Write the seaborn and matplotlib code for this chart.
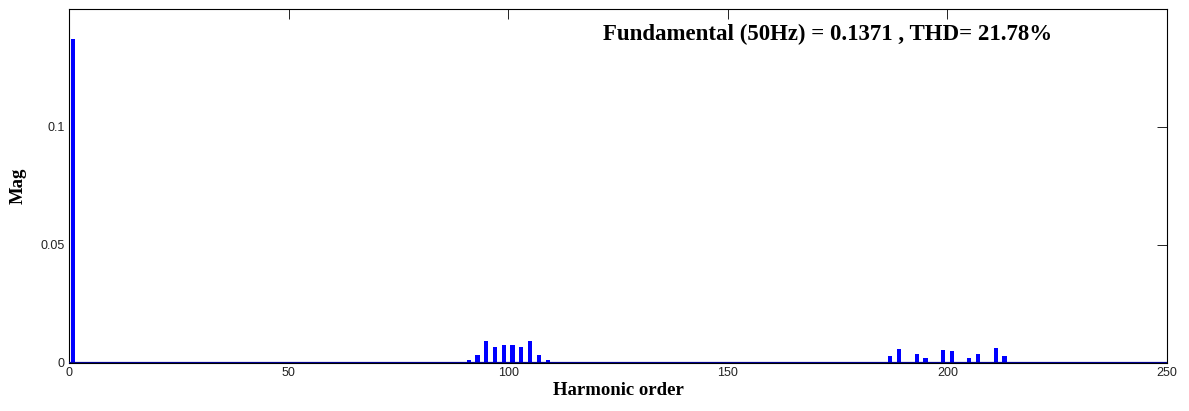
import numpy as np
import pandas as pd
import matplotlib
matplotlib.use("Agg")
import matplotlib.pyplot as plt
import seaborn as sns

# Harmonic orders with non-negligible magnitude
harmonics = [1,
             91, 93, 95, 97, 99, 101, 103, 105, 107, 109,
             187, 189, 191, 193, 195, 197, 199, 201, 203, 205, 207, 209, 211, 213]
magnitudes = [0.1371,
              0.0013, 0.0034, 0.0093, 0.0068, 0.0076, 0.0076, 0.0068, 0.0095, 0.0034, 0.0013,
              0.0030, 0.0059, 0.0003, 0.0038, 0.0020, 0.0003, 0.0055, 0.0051, 0.0003, 0.0020, 0.0038, 0.0003, 0.0065, 0.0030]
x_ticks = [0, 50, 100, 150, 200, 250]
y_ticks = [0, 0.05, 0.1]
y_tick_labels = ["0", "0.05", "0.1"]
title_text = "Fundamental (50Hz) = 0.1371 , THD= 21.78%"

# full spectrum table (orders 0..250), zeros elsewhere
orders = np.arange(0, 251)
full = pd.Series(0.0, index=orders)
full.loc[harmonics] = magnitudes
df = pd.DataFrame({"order": orders, "mag": full.values})

sns.set_style("white")
plt.rcParams['font.family'] = ['Liberation Sans', 'DejaVu Sans']
plt.rcParams['text.color'] = 'black'
plt.rcParams['axes.labelcolor'] = 'black'

fig = plt.figure(figsize=(11.89, 4.11), dpi=100)
ax = fig.add_axes([0.058, 0.1168, 0.9235, 0.8613])

sns.barplot(data=df, x="order", y="mag", native_scale=True, width=0.95,
            color=(0, 0, 1), saturation=1, edgecolor="none", ax=ax)
ax.axhline(0, color="#00008B", lw=1.6, zorder=3)

ax.set_xlim(0, 250)
ax.set_ylim(0, 0.15)
ax.set_xticks(x_ticks)
ax.set_xticklabels([str(t) for t in x_ticks])
ax.set_yticks(y_ticks)
ax.set_yticklabels(y_tick_labels)
ax.tick_params(axis="both", direction="in", labelsize=9, colors="black",
               labelcolor="#222222", top=True, right=True, width=0.6, length=7.5)
ax.tick_params(axis="x", pad=3)
ax.tick_params(axis="y", pad=3)
for s in ax.spines.values():
    s.set_visible(True)
    s.set_color("black")
    s.set_linewidth(0.8)

ax.set_xlabel("Harmonic order", fontsize=13.5, fontweight="bold",
              family=["Liberation Serif"], labelpad=2)
ax.set_ylabel("Mag", fontsize=13.5, fontweight="bold",
              family=["Liberation Serif"], labelpad=10)
ax.text(0.691, 0.912, title_text, transform=ax.transAxes, ha="center", va="baseline",
        fontsize=16.5, fontweight="bold", family=["Liberation Serif"])

fig.savefig("out.png", dpi=100)
